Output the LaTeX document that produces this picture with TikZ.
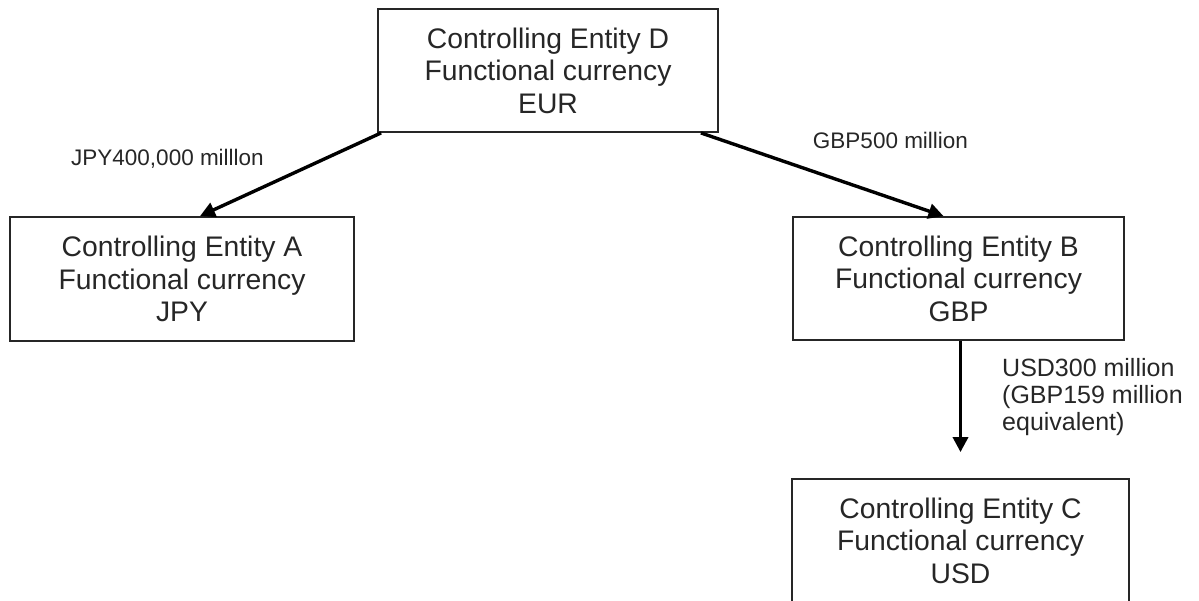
\documentclass[tikz,border=0pt]{standalone}
\usepackage{fontspec}
\setmainfont{Liberation Sans}
\usetikzlibrary{arrows.meta,calc}
\begin{document}
\begin{tikzpicture}[x=1pt,y=-1pt,
  entity/.style={draw=black!85, line width=1.8pt, inner sep=0pt, align=center,
    font=\fontsize{28.3}{32.5}\selectfont, text=black!85},
  flow/.style={line width=3.4pt, -{Triangle[length=15pt,width=15pt]}},
  lbl/.style={font=\fontsize{22.5}{26}\selectfont, text=black!85, inner sep=0pt}]
\useasboundingbox (0,0) rectangle (1199,600);
\clip (0,0) rectangle (1199,600);
\node[entity, minimum width=340pt, minimum height=123pt] (D) at (548,70.5)
  {Controlling Entity D\\Functional currency\\EUR};
\node[entity, minimum width=344pt, minimum height=124pt] (A) at (182,279)
  {Controlling Entity A\\Functional currency\\JPY};
\node[entity, minimum width=331pt, minimum height=123pt] (B) at (958.5,278.5)
  {Controlling Entity B\\Functional currency\\GBP};
\node[entity, minimum width=337pt, minimum height=123pt] (C) at (960.5,540.5)
  {Controlling Entity C\\Functional currency\\USD};
\coordinate (Ctip) at ($(C.north)+(0,-26)$);
\draw[flow] ($(D.south west)+(4,0)$) -- ($(A.north)+(18,0)$);
\draw[flow] ($(D.south east)+(-18,0)$) -- ($(B.north)+(-15,0)$);
\draw[flow] (B.south -| C.north) -- (Ctip);
\node[lbl, anchor=base] (la) at (167.5,165) {JPY400,000 milllon};
\node[lbl, anchor=base] (lb) at (890.5,148) {GBP500 million};
\node[lbl, font=\fontsize{25}{26.7}\selectfont, align=left, anchor=base west] (lc) at (1002,430)
  {USD300 million\\(GBP159 million\\equivalent)};
\end{tikzpicture}
\end{document}
